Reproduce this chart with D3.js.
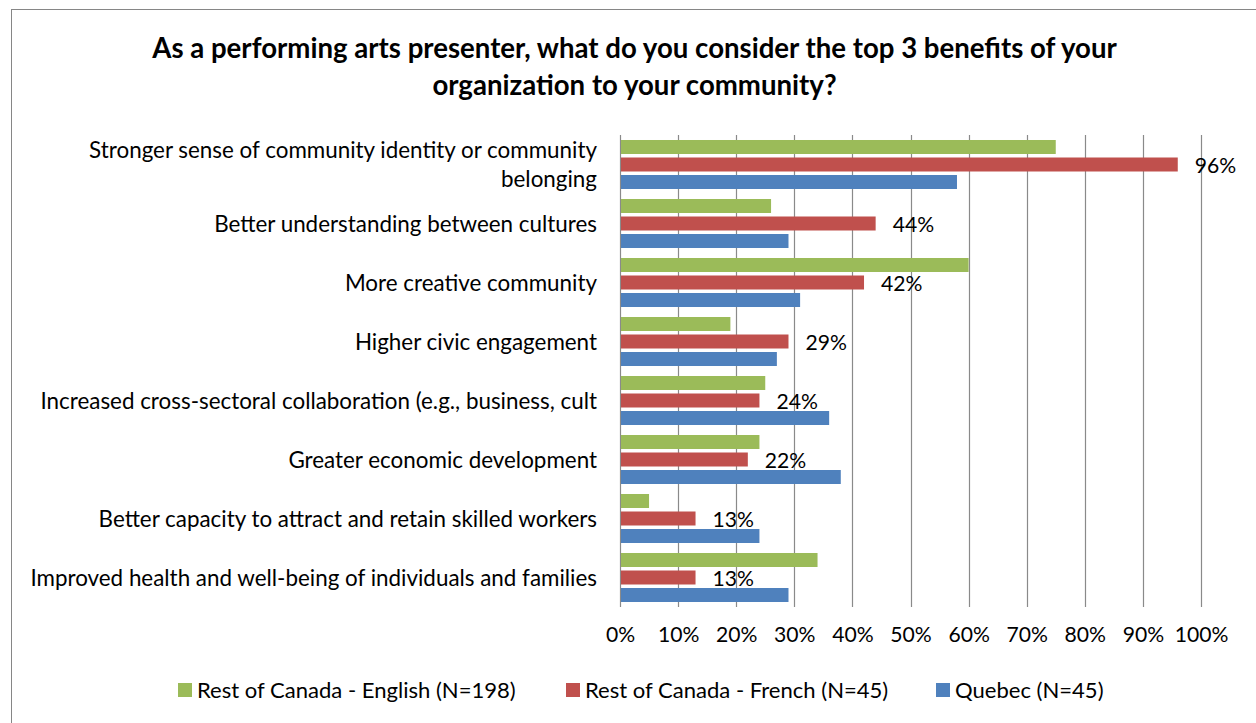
<!DOCTYPE html>
<html>
<head>
<meta charset="utf-8">
<script src="https://cdn.jsdelivr.net/npm/d3@7"></script>
<style>
  html, body { margin: 0; padding: 0; background: #fff; }
  svg { display: block; }
  text { font-family: Lato, "Open Sans", sans-serif; fill: #000; }
</style>
</head>
<body>
<svg id="chart" width="1256" height="723"></svg>
<script>
const titleLines = [
  "As a performing arts presenter, what do you consider the top 3 benefits of your",
  "organization to your community?"
];
const categories = [
  "Stronger sense of community identity or community belonging",
  "Better understanding between cultures",
  "More creative community",
  "Higher civic engagement",
  "Increased cross-sectoral collaboration (e.g., business, cult",
  "Greater economic development",
  "Better capacity to attract and retain skilled workers",
  "Improved health and well-being of individuals and families"
];
const categoryLines = [
  ["Stronger sense of community identity or community", "belonging"],
  ["Better understanding between cultures"],
  ["More creative community"],
  ["Higher civic engagement"],
  ["Increased cross-sectoral collaboration (e.g., business, cult"],
  ["Greater economic development"],
  ["Better capacity to attract and retain skilled workers"],
  ["Improved health and well-being of individuals and families"]
];
const seriesNames = [
  "Rest of Canada - English (N=198)",
  "Rest of Canada - French (N=45)",
  "Quebec (N=45)"
];
const englishValues = [75, 26, 60, 19, 25, 24, 5, 34];
const frenchValues  = [96, 44, 42, 29, 24, 22, 13, 13];
const quebecValues  = [58, 29, 31, 27, 36, 38, 24, 29];
const seriesColors = ["#9BBB59", "#C0504D", "#4F81BD"];
const xTicks = [0, 10, 20, 30, 40, 50, 60, 70, 80, 90, 100];
const labelledSeries = 1; // only the French series shows data labels

const seriesValues = [englishValues, frenchValues, quebecValues];

function draw() {
  const svg = d3.select("#chart");

  function fitSize(str, target, weight) {
    const t = svg.append("text").attr("font-size", 100).attr("font-weight", weight || "normal").text(str);
    const w = t.node().getComputedTextLength();
    t.remove();
    return 100 * target / w;
  }

  // chart border
  svg.append("rect")
    .attr("x", 11.5).attr("y", 9.5)
    .attr("width", 1300).attr("height", 800)
    .attr("fill", "#fff").attr("stroke", "#868686").attr("stroke-width", 1);

  const titleSize = fitSize(titleLines[0], 965, "bold");
  const bodySize = fitSize(categories[7], 567, "normal");
  const tickSize = (fitSize("10%", 39, "normal") + bodySize) / 2;
  const legendSize = (fitSize(seriesNames[0], 314, "normal") + bodySize) / 2;

  // title
  svg.append("g").selectAll("text").data(titleLines).join("text")
    .attr("x", 634.5)
    .attr("y", (d, i) => 57.5 + i * 37)
    .attr("text-anchor", "middle")
    .attr("font-weight", "bold")
    .attr("font-size", titleSize)
    .text(d => d);

  const plot = { left: 620, right: 1201, top: 135, bottom: 607 };

  const x = d3.scaleLinear().domain([0, 100]).range([plot.left, plot.right]);
  const y = d3.scaleBand().domain(d3.range(categories.length))
    .range([plot.top, plot.bottom]).paddingInner(0.11).paddingOuter(0.055);
  const ySub = d3.scaleBand().domain(d3.range(seriesNames.length))
    .range([0, y.bandwidth()]).paddingInner(0.2).paddingOuter(0.1);

  // gridlines
  svg.append("g").selectAll("line").data(xTicks).join("line")
    .attr("x1", d => Math.round(x(d)) + 0.5).attr("x2", d => Math.round(x(d)) + 0.5)
    .attr("y1", plot.top).attr("y2", plot.bottom)
    .attr("stroke", "#8a8a8a").attr("stroke-width", 1.2);

  // x axis labels
  const xAxis = d3.axisBottom(x).tickValues(xTicks).tickFormat(d => d + "%").tickSize(0).tickPadding(0);
  const xg = svg.append("g").attr("transform", `translate(0, ${plot.bottom + 20})`).call(xAxis);
  xg.select(".domain").remove();
  xg.selectAll("text").attr("font-size", tickSize).attr("font-family", "Lato, sans-serif").attr("fill", "#000").attr("dy", "0.71em");

  // bars
  const groups = svg.append("g").selectAll("g").data(categories).join("g")
    .attr("transform", (d, i) => `translate(0, ${y(i)})`);
  groups.selectAll("rect").data((d, i) => seriesValues.map((vals, s) => ({ s, v: vals[i] })))
    .join("rect")
    .attr("x", x(0) + 1)
    .attr("y", d => ySub(d.s))
    .attr("width", d => x(d.v) - x(0) - 1)
    .attr("height", ySub.bandwidth())
    .attr("fill", d => seriesColors[d.s]);

  // data labels (French series)
  groups.append("text")
    .attr("x", (d, i) => x(seriesValues[labelledSeries][i]) + 17)
    .attr("y", ySub(labelledSeries) + ySub.bandwidth() / 2 + 1)
    .attr("dy", "0.36em")
    .attr("font-size", tickSize)
    .text((d, i) => seriesValues[labelledSeries][i] + "%");

  // category labels
  const lineH = 29;
  svg.append("g").selectAll("text").data(categoryLines).join("text")
    .attr("text-anchor", "end")
    .attr("font-size", bodySize)
    .each(function (lines, i) {
      const cy = y(i) + y.bandwidth() / 2;
      const t = d3.select(this);
      lines.forEach((ln, k) => {
        t.append("tspan")
          .attr("x", 597)
          .attr("y", cy + (k - (lines.length - 1) / 2) * lineH)
          .attr("dy", "0.36em")
          .text(ln);
      });
    });

  // legend
  const legendX = [178, 566, 936];
  const lg = svg.append("g").selectAll("g").data(seriesNames).join("g")
    .attr("transform", (d, i) => `translate(${legendX[i]}, 690)`);
  lg.append("rect").attr("x", 0).attr("y", -7).attr("width", 14).attr("height", 14)
    .attr("fill", (d, i) => seriesColors[i]);
  lg.append("text").attr("x", 19).attr("y", 0).attr("dy", "0.36em")
    .attr("font-size", legendSize).text(d => d);
}

if (document.fonts && document.fonts.ready) {
  document.fonts.ready.then(draw);
} else {
  draw();
}
</script>
</body>
</html>
